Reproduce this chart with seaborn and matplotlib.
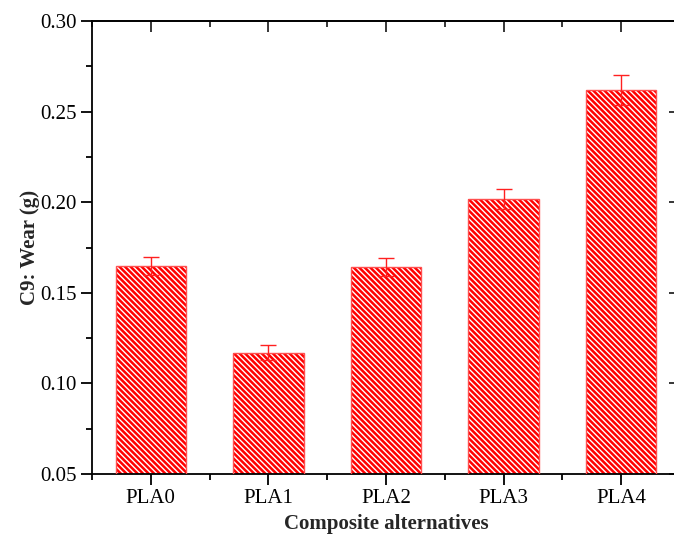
import matplotlib
matplotlib.use('Agg')
import matplotlib.pyplot as plt
import seaborn as sns
import pandas as pd
from matplotlib.ticker import MultipleLocator

# --- Data ---
alternatives = ['PLA0', 'PLA1', 'PLA2', 'PLA3', 'PLA4']
wear = [0.165, 0.117, 0.164, 0.202, 0.262]
wear_err = [0.005, 0.004, 0.005, 0.0055, 0.0083]

df = pd.DataFrame({'alt': alternatives, 'wear': wear})

sns.set_theme(style='ticks')
plt.rcParams['font.family'] = ['Liberation Serif', 'DejaVu Serif']
plt.rcParams['hatch.linewidth'] = 1.0

fig = plt.figure(figsize=(6.74, 5.34), dpi=100)
ax = fig.add_axes([92 / 674, 60 / 534, 588 / 674, 453 / 534])

# hatched red bars (white hatch lines on red)
sns.barplot(data=df, x='alt', y='wear', color='#ff0000', saturation=1,
            width=0.6, ax=ax, errorbar=None, zorder=2)
for p in ax.patches:
    p.set_hatch('\\' * 6)
    p.set_edgecolor('white')
    p.set_linewidth(0)
# outline on top
sns.barplot(data=df, x='alt', y='wear', fill=False, color='#ff5050',
            width=0.6, ax=ax, errorbar=None, linewidth=1.0, zorder=3)

ax.errorbar(range(len(alternatives)), wear, yerr=wear_err, fmt='none',
            ecolor='#ff2020', elinewidth=1.0, capsize=6, capthick=1.0, zorder=4)

ax.set_xlim(-0.5, 4.5)
ax.set_ylim(0.05, 0.30)
ax.yaxis.set_major_locator(MultipleLocator(0.05))
ax.yaxis.set_minor_locator(MultipleLocator(0.025))
ax.xaxis.set_minor_locator(MultipleLocator(0.5))
ax.yaxis.set_major_formatter(matplotlib.ticker.FormatStrFormatter('%.2f'))

for s in ax.spines.values():
    s.set_visible(True)
    s.set_linewidth(1.3)
    s.set_color('black')

ax.tick_params(axis='both', which='major', direction='out', length=8, width=1.3,
               labelsize=15, color='black', labelcolor='black', pad=3)
ax.tick_params(axis='both', which='minor', direction='out', length=4, width=1.3,
               color='black')

# top and right ticks point inward, no labels
top = ax.secondary_xaxis('top')
top.set_xticks(range(len(alternatives)))
top.xaxis.set_minor_locator(MultipleLocator(0.5))
top.tick_params(which='major', direction='in', length=8, width=1.3, labeltop=False)
top.tick_params(which='minor', direction='in', length=4, width=1.3)
top.spines['top'].set_linewidth(1.3)

right = ax.secondary_yaxis('right')
right.yaxis.set_major_locator(MultipleLocator(0.05))
right.yaxis.set_minor_locator(MultipleLocator(0.025))
right.tick_params(which='major', direction='in', length=8, width=1.3, labelright=False)
right.tick_params(which='minor', direction='in', length=4, width=1.3)
right.spines['right'].set_linewidth(1.3)

ax.set_xlabel('Composite alternatives', fontsize=15, fontweight='bold', labelpad=4)
ax.set_ylabel('C9: Wear (g)', fontsize=15, fontweight='bold')
ax.yaxis.set_label_coords(-0.088, 0.5)
ax.grid(False)

fig.savefig('out.png', dpi=100)
